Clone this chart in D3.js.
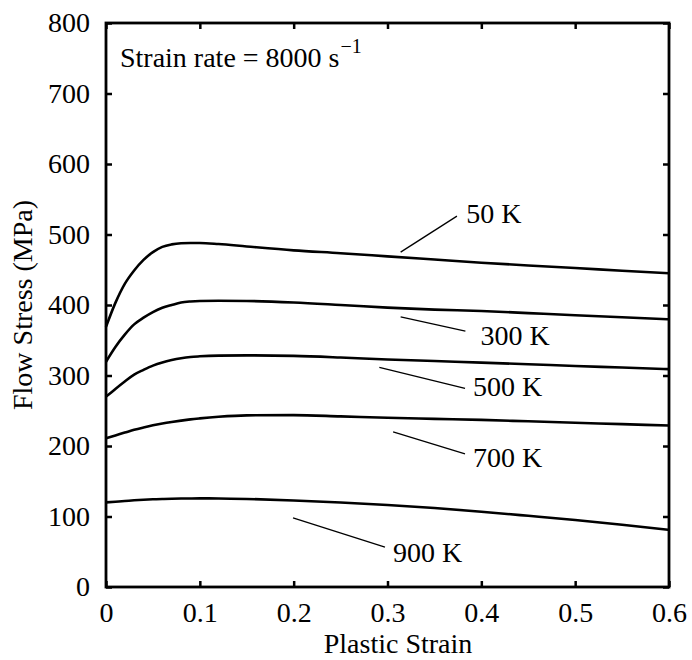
<!DOCTYPE html>
<html>
<head>
<meta charset="utf-8">
<script src="https://cdn.jsdelivr.net/npm/d3@7"></script>
<style>
  body { margin: 0; background: #fff; }
</style>
</head>
<body>
<div id="chart"></div>
<script>
// strain grid shared by all curves
var strain = [0, 0.01, 0.02, 0.03, 0.04, 0.05, 0.06, 0.07, 0.08, 0.09, 0.1,
              0.12, 0.15, 0.2, 0.25, 0.3, 0.35, 0.4, 0.45, 0.5, 0.55, 0.6];

var stress50  = [369, 403, 430, 449, 464, 475, 482.5, 486, 487.6, 488, 488,
                 486.5, 483, 477.5, 473.5, 469, 464.5, 460, 456, 452.5, 448.5, 445];
var stress300 = [319.5, 340.5, 358, 372.5, 382, 390, 396, 400, 403.5, 405, 405.7,
                 406, 405.7, 403.5, 400, 396.3, 393.5, 391.5, 388.5, 385.5, 382.7, 379.7];
var stress500 = [270, 281, 291.5, 301.3, 308, 314, 318.5, 321.9, 324.5, 326.3, 327.2,
                 328.2, 328.6, 327.8, 325.5, 322.7, 320.5, 318.3, 316, 313.5, 311.3, 309];
var stress700 = [211, 215, 219, 223, 226.3, 229.3, 231.8, 234, 236, 237.8, 239.2,
                 241.5, 243.5, 243.8, 242, 240, 238.5, 237, 235, 233, 231, 229];
var stress900 = [120, 121, 122, 123, 123.8, 124.4, 124.8, 125.2, 125.5, 125.6, 125.7,
                 125.6, 124.9, 122.8, 119.9, 116.3, 112, 106.8, 101, 95, 88.2, 81];

var xTicks = [0, 0.1, 0.2, 0.3, 0.4, 0.5, 0.6];
var yTicks = [0, 100, 200, 300, 400, 500, 600, 700, 800];

// curve labels with leader lines, in data units: [x1, y1, x2, y2]
var labelNames = ["50 K", "300 K", "500 K", "700 K", "900 K"];
var leaderLines = [
    [0.314, 475, 0.374, 526],
    [0.314, 383, 0.383, 363],
    [0.2913, 311.6, 0.3826, 281.8],
    [0.306, 219.9, 0.3826, 188.7],
    [0.1993, 97.9, 0.2973, 56.7]
];
var labelPos = [[0.384, 516], [0.399, 343], [0.391, 271], [0.391, 170], [0.3059, 35.5]];

var svgWidth = 692;
var svgHeight = 660;

var margin = { top: 23, left: 106, right: 23, bottom: 73 };
var width = svgWidth - margin.left - margin.right;
var height = svgHeight - margin.top - margin.bottom;

var serif = "Liberation Serif";

var svg = d3.select("#chart")
    .append("svg")
    .attr("width", svgWidth)
    .attr("height", svgHeight);

var chartGroup = svg.append("g")
    .attr("transform", `translate(${margin.left}, ${margin.top})`);

var x = d3.scaleLinear().domain([0, 0.6]).range([0, width]);
var y = d3.scaleLinear().domain([0, 800]).range([height, 0]);

var fmtX = d => d === 0 ? "0" : d3.format(".1f")(d);

// ticks point inward on all four sides
var bottomAxis = d3.axisBottom(x).tickValues(xTicks).tickFormat(fmtX)
    .tickSizeInner(-6).tickSizeOuter(0).tickPadding(15);
var leftAxis = d3.axisLeft(y).tickValues(yTicks)
    .tickSizeInner(-6).tickSizeOuter(0).tickPadding(16);
var topAxis = d3.axisTop(x).tickValues(xTicks).tickFormat("")
    .tickSizeInner(-6).tickSizeOuter(0);
var rightAxis = d3.axisRight(y).tickValues(yTicks).tickFormat("")
    .tickSizeInner(-6).tickSizeOuter(0);

function styleAxis(g) {
    g.attr("font-family", serif).attr("font-size", 28);
    g.select(".domain").remove();
    g.selectAll(".tick line").attr("stroke", "#000").attr("stroke-width", 2.5);
    g.selectAll(".tick text")
        .attr("fill", "#000")
        .attr("font-family", serif)
        .attr("font-size", 28);
}

chartGroup.append("g").attr("transform", `translate(0, ${height})`).call(bottomAxis).call(styleAxis);
chartGroup.append("g").call(leftAxis).call(styleAxis);
chartGroup.append("g").call(topAxis).call(styleAxis);
chartGroup.append("g").attr("transform", `translate(${width}, 0)`).call(rightAxis).call(styleAxis);

chartGroup.append("rect")
    .attr("x", 0).attr("y", 0)
    .attr("width", width).attr("height", height)
    .attr("fill", "none")
    .attr("stroke", "#000")
    .attr("stroke-width", 2.8);

var series = [stress50, stress300, stress500, stress700, stress900];

var line = d3.line()
    .x(d => x(d[0]))
    .y(d => y(d[1]))
    .curve(d3.curveMonotoneX);

chartGroup.selectAll(".curve")
    .data(series)
    .enter()
    .append("path")
    .attr("class", "curve")
    .attr("d", s => line(strain.map((e, i) => [e, s[i]])))
    .attr("fill", "none")
    .attr("stroke", "#000")
    .attr("stroke-width", 2.6);

chartGroup.selectAll(".leader")
    .data(leaderLines)
    .enter()
    .append("line")
    .attr("class", "leader")
    .attr("x1", d => x(d[0]))
    .attr("y1", d => y(d[1]))
    .attr("x2", d => x(d[2]))
    .attr("y2", d => y(d[3]))
    .attr("stroke", "#000")
    .attr("stroke-width", 1.3);

chartGroup.selectAll(".clabel")
    .data(labelNames)
    .enter()
    .append("text")
    .attr("class", "clabel")
    .attr("x", (d, i) => x(labelPos[i][0]))
    .attr("y", (d, i) => y(labelPos[i][1]))
    .attr("font-family", serif)
    .attr("font-size", 28)
    .text(d => d);

// strain rate note
var note = chartGroup.append("text")
    .attr("x", x(0.0149))
    .attr("y", y(737.6))
    .attr("font-family", serif)
    .attr("font-size", 28);
note.append("tspan").text("Strain rate = 8000 s");
note.append("tspan").attr("dy", -14).attr("dx", 1).attr("font-size", 20).text("\u22121");

// axis titles
svg.append("text")
    .attr("x", 398)
    .attr("y", 653)
    .attr("text-anchor", "middle")
    .attr("font-family", serif)
    .attr("font-size", 28)
    .text("Plastic Strain");

svg.append("text")
    .attr("transform", "translate(32, 305) rotate(-90)")
    .attr("text-anchor", "middle")
    .attr("font-family", serif)
    .attr("font-size", 28)
    .text("Flow Stress (MPa)");
</script>
</body>
</html>
